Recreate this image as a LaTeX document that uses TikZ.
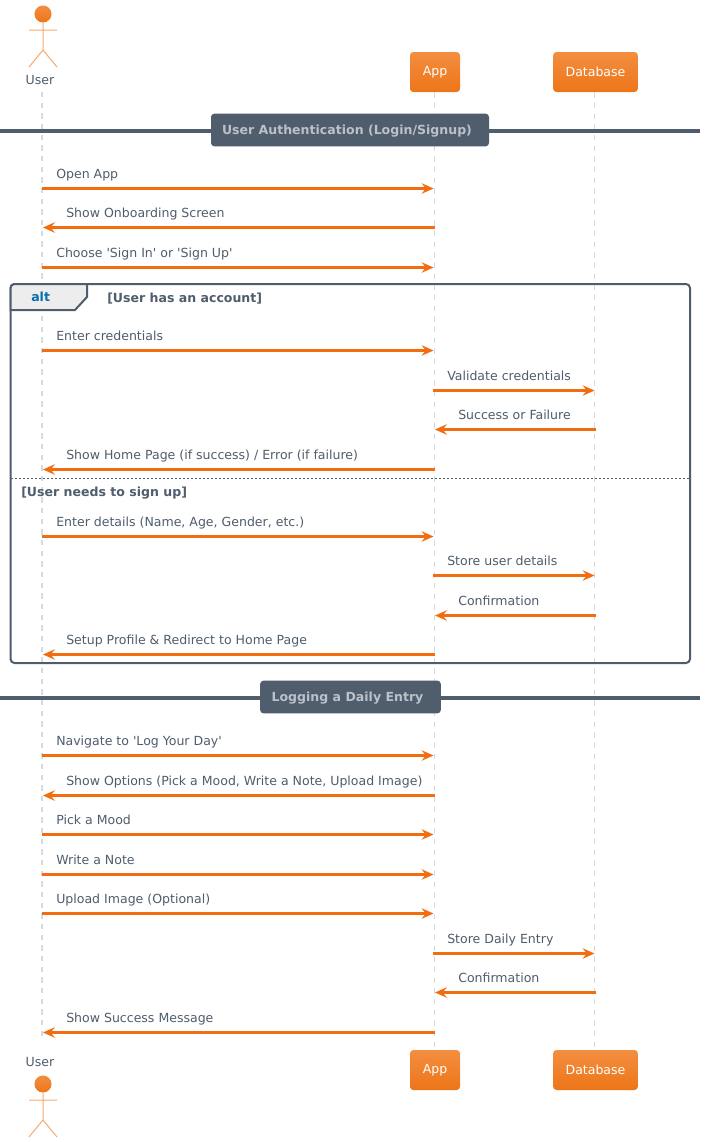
\documentclass[tikz,border=0pt]{standalone}
\usepackage{fontspec}
\setmainfont{DejaVu Sans}
\usetikzlibrary{arrows.meta,positioning,shapes,calc}

\definecolor{seqorange}{HTML}{F26D0F}
\definecolor{partytop}{HTML}{F38E40}
\definecolor{partybot}{HTML}{ED7518}
\definecolor{seqslate}{HTML}{4F5D6C}
\definecolor{seqtext}{HTML}{4F5D6C}
\definecolor{seqlife}{HTML}{D5DAE1}
\definecolor{seqblue}{HTML}{0B6DB0}

\begin{document}
\begin{tikzpicture}[x=0.75pt, y=-0.75pt, font=\fontsize{9.4}{11}\selectfont, every node/.style={align=center, text=seqtext}]

% styles
\tikzset{
  party/.style={rectangle, rounded corners=2.5pt, draw=none, top color=partytop, bottom color=partybot, minimum height=30pt, inner sep=0pt, text=white},
  lifeline/.style={draw=seqlife, line width=0.8pt, dash pattern=on 4pt off 4pt},
  msg/.style={draw=seqorange, line width=2.2pt, -{Stealth[length=9pt, width=8pt, inset=3.2pt, line width=0pt]}},
  msglabel/.style={anchor=base west, inner sep=0pt},
  divider/.style={draw=seqslate, line width=3pt},
  divlabel/.style={rectangle, rounded corners=2.5pt, fill=seqslate, minimum height=24.5pt, inner sep=0pt, text height=6.1pt, text depth=0pt, text=seqlife!80!seqslate, font=\fontsize{9.4}{11}\selectfont\bfseries},
  framebox/.style={draw=seqslate, line width=1.5pt, rounded corners=3pt},
  guard/.style={anchor=base west, inner sep=0pt, font=\fontsize{9.4}{11}\selectfont\bfseries},
  stick/.style={draw=partytop!75!white, line width=0.75pt},
  actorfig/.pic={
    \shade[top color=partytop, bottom color=partybot] (0,0) circle (6.4pt);
    \draw[stick] (0,9) -- (0,36) (-14,16) -- (14,16) (-14,53) -- (0,36) -- (14,53);
  }
}

\useasboundingbox (0,0) rectangle (706,1142);
\fill[white] (0,0) rectangle (706,1142);

% participants, top and bottom row
\pic at (43,14) {actorfig};
\node (userTop) at (40,80.5) {User};
\node[party, minimum width=37.5pt] (appTop) at (435,72) {App};
\node[party, minimum width=63.5pt] (dbTop) at (595.5,72) {Database};

\node (userBot) at (40,1062.5) {User};
\pic at (43,1084) {actorfig};
\node[party, minimum width=37.5pt] (appBot) at (435,1070) {App};
\node[party, minimum width=63.5pt] (dbBot) at (595.5,1070) {Database};

% lifelines
\coordinate (userA) at (42,92);
\coordinate (userB) at (42,1040);
\draw[lifeline] (userA) -- (userB);
\draw[lifeline] ([xshift=-0.4pt]appTop.south) -- ([xshift=-0.4pt]appBot.north);
\draw[lifeline] ([xshift=-0.9pt]dbTop.south) -- ([xshift=-0.9pt]dbBot.north);

% section dividers
\coordinate (divLa) at (0,131);
\coordinate (divRa) at (700,131);
\coordinate (divLb) at (0,698);
\coordinate (divRb) at (700,698);
\draw[divider] (divLa) -- (divRa);
\draw[divider] (divLb) -- (divRb);
\node[divlabel, minimum width=208.5pt] (authLabel) at (350,130) {User Authentication (Login/Signup)\hspace{4.5pt}};
\node[divlabel, minimum width=135.5pt] (entryLabel) at (350.5,697) {Logging a Daily Entry\hspace{4.5pt}};

% alt frame
\draw[framebox] (10.5,284) rectangle (690,663);
\draw[draw=seqslate, line width=1.5pt, fill=black!7] (10.5,310) -- (10.5,288) [rounded corners=3pt] -- (10.5,284) [sharp corners] -- (87,284) -- (87,297) -- (75,310) -- cycle;
\node[anchor=base west, inner sep=0pt, text=seqblue, font=\fontsize{9.4}{11}\selectfont\bfseries] (altTag) at (31,301) {alt};
\node[guard] (guardA) at (107,302) {[User has an account]};
\draw[draw=seqslate, line width=0.6pt, dash pattern=on 1.5pt off 1.5pt] (10.5,478) -- (690,478);
\node[guard] (guardB) at (21,496) {[User needs to sign up]};

% messages: row / from x / to x / label x / label
\foreach \y/\a/\b/\tx/\txt in {
  188/42/433.5/56/{Open App},
  227/435/43/66/{Show Onboarding Screen},
  267/42/433.5/56/{Choose \textquotesingle Sign In\textquotesingle{} or \textquotesingle Sign Up\textquotesingle},
  350/42/433.5/56/{Enter credentials},
  390/433/594.5/447/{Validate credentials},
  429/596/435/458/{Success or Failure},
  469/435/43/66/{Show Home Page (if success) / Error (if failure)},
  536/42/433.5/56/{Enter details (Name, Age, Gender, etc.)},
  575/433/594.5/447/{Store user details},
  615/596/435/458/{Confirmation},
  654/435/43/66/{Setup Profile \& Redirect to Home Page},
  755/42/433.5/56/{Navigate to \textquotesingle Log Your Day\textquotesingle},
  795/435/43/66/{Show Options (Pick a Mood, Write a Note, Upload Image)},
  834/42/433.5/56/{Pick a Mood},
  874/42/433.5/56/{Write a Note},
  913/42/433.5/56/{Upload Image (Optional)},
  953/433/594.5/447/{Store Daily Entry},
  992/596/435/458/{Confirmation},
  1032/435/43/66/{Show Success Message}}{
  \coordinate (from\y) at (\a,\y+0.5);
  \coordinate (to\y) at (\b,\y+0.5);
  \draw[msg] (from\y) -- (to\y);
  \node[msglabel] (label\y) at (\tx,\y-9.5) {\txt};
}

\end{tikzpicture}
\end{document}
